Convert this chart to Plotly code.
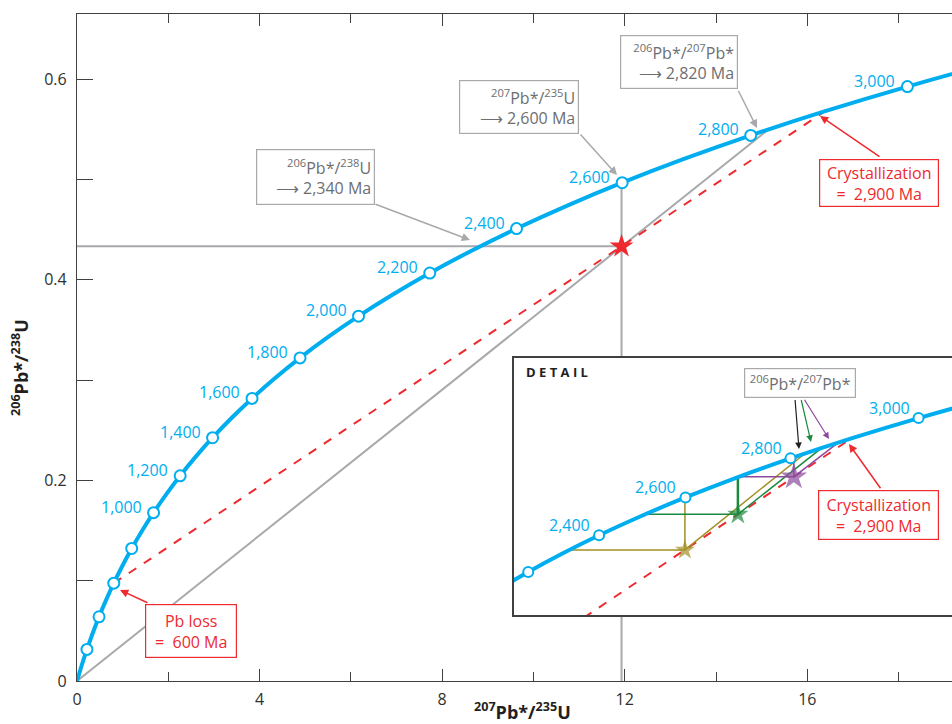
import plotly.graph_objects as go

# ---------------- data ----------------
# Concordia curve, ages in Ma
curve_age = [0, 100, 200, 300, 400, 500, 600, 700, 800, 900, 1000, 1100, 1200, 1300,
             1400, 1500, 1600, 1700, 1800, 1900, 2000, 2100, 2200, 2300, 2400, 2500,
             2600, 2700, 2800, 2900, 3000, 3100, 3200]
curve_x = [0.0, 0.1035, 0.2177, 0.3438, 0.4828, 0.6362, 0.8057, 0.9925, 1.1987, 1.4263,
           1.6774, 1.9545, 2.2603, 2.5978, 2.9700, 3.3810, 3.8346, 4.3348, 4.8865, 5.4960,
           6.1684, 6.9104, 7.7291, 8.6327, 9.6297, 10.7299, 11.9444, 13.2835, 14.7607,
           16.3925, 18.1932, 20.1796, 22.372]
curve_y = [0.0, 0.01563, 0.03151, 0.04764, 0.06402, 0.08065, 0.09754, 0.11470, 0.13213,
           0.14983, 0.16782, 0.18606, 0.20459, 0.22343, 0.24256, 0.26199, 0.28172, 0.30176,
           0.32211, 0.34278, 0.36377, 0.38509, 0.40675, 0.42875, 0.45108, 0.47376, 0.49680,
           0.52020, 0.54398, 0.56812, 0.59264, 0.61755, 0.6428]

marker_ages = [200, 400, 600, 800, 1000, 1200, 1400, 1600, 1800, 2000, 2200, 2400, 2600, 2800, 3000]
label_ages = [1000, 1200, 1400, 1600, 1800, 2000, 2200, 2400, 2600, 2800, 3000]
label_text = ["1,000", "1,200", "1,400", "1,600", "1,800", "2,000", "2,200", "2,400", "2,600", "2,800", "3,000"]
inset_label_ages = [2400, 2600, 2800, 3000]
inset_label_text = ["2,400", "2,600", "2,800", "3,000"]

# Discordia: Pb loss (600 Ma) to crystallization (2900 Ma)
disc_x = [0.8057, 16.3925]
disc_y = [0.09754, 0.56812]

# Measured sample (red star) and its age projections
star_x = [11.93]
star_y = [0.4334]
proj_h_x = [0.0, 11.93]          # 206Pb/238U horizontal
proj_h_y = [0.4334, 0.4334]
proj_v_x = [11.93, 11.93]        # 207Pb/235U vertical
proj_v_y = [0.0, 0.4965]
proj_d_x = [0.0, 15.14]          # 206Pb/207Pb ray from origin
proj_d_y = [0.0, 0.5496]

# Detail: three samples along the discordia
det_star_x = [11.93, 13.35, 14.85]
det_star_y = [0.4334, 0.4764, 0.5217]
det_h_end_x = [8.84, 10.87, 13.38]
det_v_end_y = [0.4965, 0.5213, 0.5453]
det_d_end_x = [15.14, 15.60, 16.04]
det_d_end_y = [0.5496, 0.5567, 0.5630]
det_colors = ["#a38f22", "#1b8a3f", "#8b4a9c"]
det_star_size = [15, 16, 20]
det_v_width = [1.5, 2.5, 1.5]

# ---------------- styling ----------------
BLUE = "#00aeef"
RED = "#ee2a2f"
GRAY = "#a7a9ac"
GTXT = "#6d6e71"
DARK = "#231f20"
FONT = "Open Sans"

W, H = 952, 724
L, R, T, B = 77, 0, 14, 43
PW, PH = W - L - R, H - T - B


def pxx(x):
    return (x - L) / PW


def pxy(y):
    return (H - B - y) / PH


mx = [curve_x[curve_age.index(a)] for a in marker_ages]
my = [curve_y[curve_age.index(a)] for a in marker_ages]

fig = go.Figure()

# ---- main panel ----
fig.add_trace(go.Scatter(x=proj_h_x, y=proj_h_y, mode="lines", line=dict(color=GRAY, width=2), hoverinfo="skip"))
fig.add_trace(go.Scatter(x=proj_v_x, y=proj_v_y, mode="lines", line=dict(color=GRAY, width=2), hoverinfo="skip"))
fig.add_trace(go.Scatter(x=proj_d_x, y=proj_d_y, mode="lines", line=dict(color=GRAY, width=2), hoverinfo="skip"))
fig.add_trace(go.Scatter(x=disc_x, y=disc_y, mode="lines", line=dict(color=RED, width=2, dash="dash")))
fig.add_trace(go.Scatter(x=curve_x, y=curve_y, mode="lines", line=dict(color=BLUE, width=4, shape="spline")))
fig.add_trace(go.Scatter(x=mx, y=my, mode="markers",
                         marker=dict(size=11, color="white", line=dict(color=BLUE, width=2))))
fig.add_trace(go.Scatter(x=star_x, y=star_y, mode="markers",
                         marker=dict(symbol="star", size=18, color=RED, line=dict(width=0))))

# ---- detail panel ----
fig.add_trace(go.Scatter(x=disc_x, y=disc_y, mode="lines", line=dict(color=RED, width=2, dash="dash"),
                         xaxis="x2", yaxis="y2"))
for i in range(3):
    c = det_colors[i]
    fig.add_trace(go.Scatter(x=[det_h_end_x[i], det_star_x[i]], y=[det_star_y[i], det_star_y[i]], mode="lines",
                             line=dict(color=c, width=1.5), xaxis="x2", yaxis="y2"))
    fig.add_trace(go.Scatter(x=[det_star_x[i], det_star_x[i]], y=[det_star_y[i], det_v_end_y[i]], mode="lines",
                             line=dict(color=c, width=det_v_width[i]), xaxis="x2", yaxis="y2"))
    fig.add_trace(go.Scatter(x=[det_star_x[i], det_d_end_x[i]], y=[det_star_y[i], det_d_end_y[i]], mode="lines",
                             line=dict(color=c, width=1.5), xaxis="x2", yaxis="y2"))
fig.add_trace(go.Scatter(x=curve_x, y=curve_y, mode="lines", line=dict(color=BLUE, width=4, shape="spline"),
                         xaxis="x2", yaxis="y2"))
fig.add_trace(go.Scatter(x=mx, y=my, mode="markers",
                         marker=dict(size=10, color="white", line=dict(color=BLUE, width=2)),
                         xaxis="x2", yaxis="y2"))
fig.add_trace(go.Scatter(x=det_star_x, y=det_star_y, mode="markers",
                         marker=dict(symbol="star", size=det_star_size, color=det_colors, line=dict(width=0)),
                         xaxis="x2", yaxis="y2"))

annotations = []

# age labels
for a, t in zip(label_ages, label_text):
    i = curve_age.index(a)
    annotations.append(dict(x=curve_x[i], y=curve_y[i], xref="x", yref="y", text=t, showarrow=False,
                            xanchor="right", yanchor="middle", xshift=-10, yshift=6,
                            font=dict(family=FONT, size=16, color=BLUE)))
for a, t in zip(inset_label_ages, inset_label_text):
    i = curve_age.index(a)
    annotations.append(dict(x=curve_x[i], y=curve_y[i], xref="x2", yref="y2", text=t, showarrow=False,
                            xanchor="right", yanchor="middle", xshift=-7, yshift=10,
                            font=dict(family=FONT, size=16, color=BLUE)))


def box(x0, y0, x1, y1, text, border, color, align, size=16):
    return dict(x=pxx((x0 + x1) / 2), y=pxy((y0 + y1) / 2), xref="paper", yref="paper",
                xanchor="center", yanchor="middle", text=text, showarrow=False,
                bordercolor=border, borderwidth=1.2, borderpad=3, bgcolor="white",
                width=x1 - x0 - 9, height=y1 - y0 - 9, align=align, valign="middle",
                font=dict(family=FONT, size=size, color=color))


def arrow(x0, y0, x1, y1, color, w=1.5):
    return dict(x=pxx(x1), y=pxy(y1), xref="paper", yref="paper", ax=x0 - x1, ay=y0 - y1,
                axref="pixel", ayref="pixel", text=" ", font=dict(size=1), borderpad=0,
                showarrow=True, arrowhead=2,
                arrowsize=1.1, arrowwidth=w, arrowcolor=color, standoff=0, startstandoff=0)


ARW = "\u27f6"
annotations += [
    box(255, 148, 375, 205, "<sup>206</sup>Pb*/<sup>238</sup>U<br>" + ARW + " 2,340 Ma", GRAY, GTXT, "right"),
    box(458, 79, 579, 134, "<sup>207</sup>Pb*/<sup>235</sup>U<br>" + ARW + " 2,600 Ma", GRAY, GTXT, "right"),
    box(619, 35, 738, 90, "<sup>206</sup>Pb*/<sup>207</sup>Pb*<br>" + ARW + " 2,820 Ma", GRAY, GTXT, "right"),
    box(818, 158, 939, 207, "Crystallization<br>=  2,900 Ma", RED, RED, "center"),
    box(144, 603, 237, 658, "Pb loss<br>=  600 Ma", RED, RED, "center"),
    box(817, 489, 939, 540, "Crystallization<br>=  2,900 Ma", RED, RED, "center"),
    box(743, 367, 856, 398, "<sup>206</sup>Pb*/<sup>207</sup>Pb*", GRAY, GTXT, "center"),
    arrow(375, 204, 470, 240, GRAY),
    arrow(580, 134, 617, 175, GRAY),
    arrow(738, 90, 757, 128, GRAY),
    arrow(880, 157, 820, 116, RED),
    arrow(148, 603, 120, 590, RED),
    arrow(881, 489, 849, 444, RED),
    arrow(795, 399, 799, 449, DARK, 1.2),
    arrow(801, 399, 811, 442, det_colors[1], 1.2),
    arrow(804, 399, 829, 439, det_colors[2], 1.2),
    dict(x=pxx(524), y=pxy(372), xref="paper", yref="paper", xanchor="left", yanchor="middle",
         text="<b>D E T A I L</b>", showarrow=False, font=dict(family=FONT, size=13, color=DARK)),
    dict(x=pxx(20), y=pxy(368), xref="paper", yref="paper", xanchor="center", yanchor="middle",
         text="<b><sup>206</sup>Pb*/<sup>238</sup>U</b>", textangle=-90, showarrow=False,
         font=dict(family=FONT, size=18, color=DARK)),
    dict(x=pxx(522), y=pxy(711), xref="paper", yref="paper", xanchor="center", yanchor="middle",
         text="<b><sup>207</sup>Pb*/<sup>235</sup>U</b>", showarrow=False,
         font=dict(family=FONT, size=18, color=DARK)),
]

fig.update_layout(
    width=W, height=H, margin=dict(l=L, r=R, t=T, b=B),
    paper_bgcolor="white", plot_bgcolor="white", showlegend=False,
    font=dict(family=FONT, size=16, color=DARK),
    xaxis=dict(range=[0, 19.17], showgrid=False, zeroline=False, showline=True, linecolor="#404040",
               linewidth=1.3, mirror="ticks", ticks="inside", ticklen=12, tickwidth=1.3, tickcolor="#404040",
               tickvals=[0, 4, 8, 12, 16], ticktext=["0", "4", "8", "12", "16"],
               minor=dict(dtick=2, ticks="inside", ticklen=9, tickwidth=1.3, tickcolor="#404040"),
               ticklabelstandoff=4, tickfont=dict(family=FONT, size=16, color="#303030")),
    yaxis=dict(range=[0, 0.665], showgrid=False, zeroline=False, showline=True, linecolor="#404040",
               linewidth=1.3, mirror=False, ticks="inside", ticklen=16, tickwidth=1.3, tickcolor="#404040",
               tickvals=[0, 0.2, 0.4, 0.6], ticktext=["0", "0.2", "0.4", "0.6"],
               minor=dict(dtick=0.1, ticks="inside", ticklen=16, tickwidth=1.3, tickcolor="#404040"),
               ticklabelstandoff=6, tickfont=dict(family=FONT, size=16, color="#303030")),
    xaxis2=dict(domain=[pxx(514), 1.0], range=[7.348, 19.09], anchor="y2", showgrid=False, zeroline=False,
                showline=True, mirror=True, linecolor="#404040", linewidth=1.5, ticks="",
                showticklabels=False),
    yaxis2=dict(domain=[pxy(615), pxy(358)], range=[0.3548, 0.6652], anchor="x2", showgrid=False,
                zeroline=False, showline=True, mirror=False, linecolor="#404040", linewidth=1.5, ticks="",
                showticklabels=False),
    annotations=annotations,
)

fig.write_html("out.html", config={"displayModeBar": False},
               post_script="document.body.style.margin='0';document.body.style.overflow='hidden';")
